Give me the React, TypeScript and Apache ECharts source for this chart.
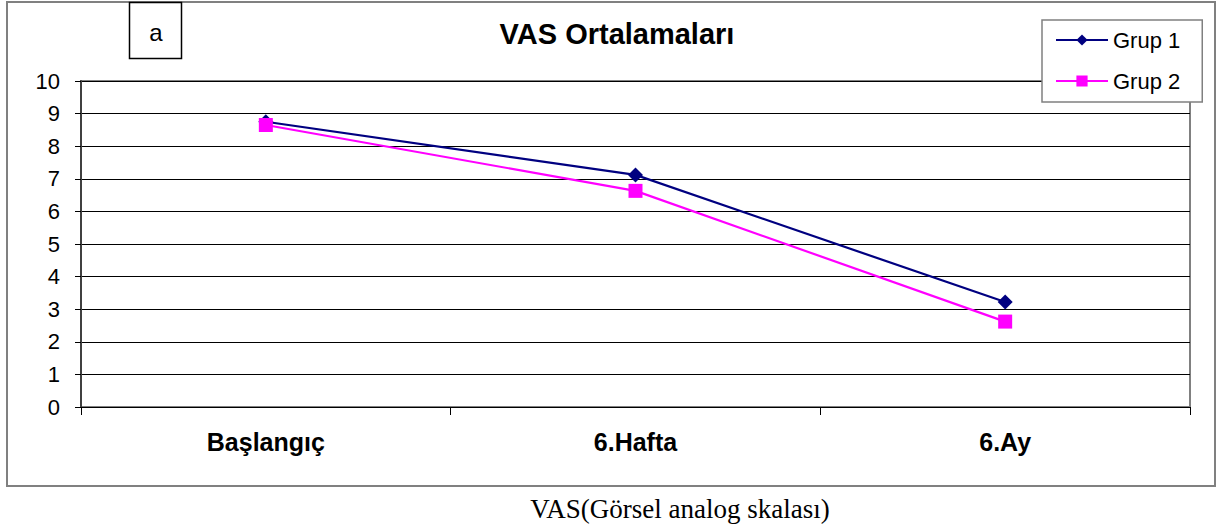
import React, { useEffect, useRef } from "react";
import * as echarts from "echarts";

const categories = ["Başlangıç", "6.Hafta", "6.Ay"];
const grup1 = [8.75, 7.12, 3.22];
const grup2 = [8.65, 6.63, 2.62];
const yTicks = { min: 0, max: 10, interval: 1 };

export default function App() {
  const ref = useRef<HTMLDivElement>(null);
  useEffect(() => {
    const chart = echarts.init(ref.current!, null, { renderer: "svg" });
    chart.setOption({
      animation: false,
      backgroundColor: "#ffffff",
      grid: {
        left: 81,
        top: 81,
        width: 1109,
        height: 326,
        show: true,
        borderColor: "#808080",
        borderWidth: 2,
        backgroundColor: "transparent",
      },
      legend: {
        orient: "vertical",
        left: 1042,
        top: 20,
        padding: [9, 22, 10, 13],
        itemGap: 19,
        itemWidth: 52,
        itemHeight: 14,
        borderColor: "#808080",
        borderWidth: 1.5,
        backgroundColor: "#fff",
        textStyle: { fontFamily: "Arial, Liberation Sans", fontSize: 22, color: "#000" },
        data: ["Grup 1", "Grup 2"],
      },
      xAxis: {
        type: "category",
        data: categories,
        boundaryGap: true,
        axisLine: { lineStyle: { color: "#000", width: 1 } },
        axisTick: { show: true, length: 8, lineStyle: { color: "#000" } },
        axisLabel: {
          margin: 22,
          fontFamily: "Arial, Liberation Sans",
          fontSize: 25,
          fontWeight: "bold",
          color: "#000",
        },
      },
      yAxis: {
        type: "value",
        min: yTicks.min,
        max: yTicks.max,
        interval: yTicks.interval,
        axisLine: { show: true, lineStyle: { color: "#404040", width: 2 } },
        axisTick: { show: true, length: 6, lineStyle: { color: "#000" } },
        axisLabel: {
          margin: 21,
          fontFamily: "Arial, Liberation Sans",
          fontSize: 22,
          color: "#000",
        },
        splitLine: { show: true, lineStyle: { color: "#000", width: 1 } },
      },
      graphic: [
        {
          type: "rect",
          shape: { x: 7, y: 2, width: 1208, height: 484 },
          style: { fill: "none", stroke: "#808080", lineWidth: 2 },
          z: -1,
        },
        {
          type: "text",
          x: 617,
          y: 34,
          style: {
            text: "VAS Ortalamaları",
            fontFamily: "Arial, Liberation Sans",
            fontSize: 29,
            fontWeight: "bold",
            fill: "#000",
            align: "center",
            verticalAlign: "middle",
          },
        },
        {
          type: "rect",
          shape: { x: 129.5, y: 2.5, width: 52, height: 56 },
          style: { fill: "#fff", stroke: "#000", lineWidth: 1.5 },
        },
        {
          type: "text",
          x: 156,
          y: 32,
          style: {
            text: "a",
            fontFamily: "Arial, Liberation Sans",
            fontSize: 24,
            fill: "#000",
            align: "center",
            verticalAlign: "middle",
          },
        },
        {
          type: "text",
          x: 680,
          y: 509,
          style: {
            text: "VAS(Görsel analog skalası)",
            fontFamily: "Liberation Serif, Times New Roman, serif",
            fontSize: 27,
            fill: "#000",
            align: "center",
            verticalAlign: "middle",
          },
        },
      ],
      series: [
        {
          name: "Grup 1",
          type: "line",
          data: grup1,
          symbol: "diamond",
          symbolSize: 15,
          itemStyle: { color: "#000080" },
          lineStyle: { color: "#000080", width: 2.2 },
        },
        {
          name: "Grup 2",
          type: "line",
          data: grup2,
          symbol: "rect",
          symbolSize: 14,
          itemStyle: { color: "#FF00FF" },
          lineStyle: { color: "#FF00FF", width: 2.2 },
        },
      ],
    });
    return () => chart.dispose();
  }, []);
  return (
    <div
      ref={ref}
      style={{ position: "fixed", left: 0, top: 0, width: 1217, height: 526 }}
    />
  );
}
